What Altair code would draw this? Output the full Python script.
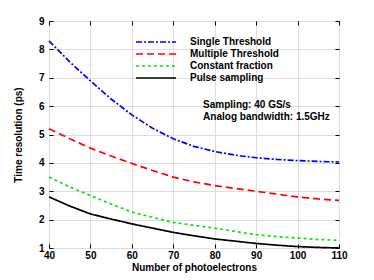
import altair as alt
import pandas as pd

photoelectrons = [40, 45, 50, 55, 60, 65, 70, 75, 80, 85, 90, 95, 100, 105, 110]
single_threshold = [8.30, 7.56, 6.89, 6.25, 5.69, 5.22, 4.85, 4.58, 4.40, 4.27, 4.18, 4.12, 4.08, 4.05, 4.03]
multiple_threshold = [5.20, 4.85, 4.52, 4.24, 3.98, 3.73, 3.50, 3.33, 3.20, 3.10, 3.00, 2.90, 2.80, 2.73, 2.68]
constant_fraction = [3.50, 3.15, 2.85, 2.55, 2.27, 2.08, 1.90, 1.80, 1.70, 1.58, 1.47, 1.40, 1.35, 1.30, 1.27]
pulse_sampling = [2.80, 2.48, 2.20, 2.02, 1.85, 1.70, 1.55, 1.43, 1.32, 1.24, 1.16, 1.10, 1.05, 1.02, 1.00]

series_names = ["Single Threshold", "Multiple Threshold", "Constant fraction", "Pulse sampling"]
series_colors = ["#0000ff", "#ff0000", "#00e600", "#000000"]
series_dashes = [[6, 2, 2, 2], [7, 4], [3, 3], [1, 0]]

x_ticks = [40, 50, 60, 70, 80, 90, 100, 110]
y_ticks = [1, 2, 3, 4, 5, 6, 7, 8, 9]

notes = ["Sampling: 40 GS/s", "Analog bandwidth: 1.5GHz"]
note_x = [77.2, 77.2]
note_y = [6.04, 5.62]

rows = []
for name, vals in zip(series_names, [single_threshold, multiple_threshold, constant_fraction, pulse_sampling]):
    for xv, yv in zip(photoelectrons, vals):
        rows.append({"n": xv, "t": yv, "series": name})
df = pd.DataFrame(rows)
notes_df = pd.DataFrame({"x": note_x, "y": note_y, "text": notes})

FONT = "Liberation Sans"
xscale = alt.Scale(domain=[40, 110], nice=False, zero=False)
yscale = alt.Scale(domain=[1, 9], nice=False, zero=False)

legend_kw = dict(title=None, orient="none", legendX=101, legendY=15,
                 symbolType="M-4,0H4", symbolSize=100, symbolStrokeWidth=1.5,
                 labelFont=FONT, labelFontWeight="bold", labelFontSize=10,
                 labelColor="black", labelOffset=28, rowPadding=1, padding=0)

color = alt.Color("series:N", scale=alt.Scale(domain=series_names, range=series_colors),
                  legend=alt.Legend(**legend_kw))
dash = alt.StrokeDash("series:N", scale=alt.Scale(domain=series_names, range=series_dashes),
                      legend=alt.Legend(**legend_kw))

lines = alt.Chart(df).mark_line(strokeWidth=1.7).encode(
    x=alt.X("n:Q", scale=xscale, axis=alt.Axis(orient="bottom", values=x_ticks, ticks=False, domain=False,
                                               title="Number of photoelectrons", labelPadding=2,
                                               labelFlush=False, titlePadding=2, labelFont=FONT,
                                               labelFontWeight="bold", labelFontSize=10, titleFont=FONT,
                                               titleFontWeight="bold", titleFontSize=10,
                                               labelColor="black", titleColor="black")),
    y=alt.Y("t:Q", scale=yscale, axis=alt.Axis(orient="left", values=y_ticks, ticks=False, domain=False,
                                               title="Time resolution (ps)", labelPadding=5,
                                               labelFlush=False, titlePadding=15, labelFont=FONT,
                                               labelFontWeight="bold", labelFontSize=10, titleFont=FONT,
                                               titleFontWeight="bold", titleFontSize=10,
                                               labelColor="black", titleColor="black")),
    color=color,
    strokeDash=dash,
)

tick_style = dict(labels=False, domain=False, title=None, tickSize=4, offset=-4, tickColor="black", tickWidth=1)

ticks_a = alt.Chart(df).mark_point(opacity=0).encode(
    x=alt.X("n:Q", scale=xscale, axis=alt.Axis(orient="top", values=x_ticks, **tick_style)),
    y=alt.Y("t:Q", scale=yscale, axis=alt.Axis(orient="right", values=y_ticks, **tick_style)),
)
ticks_b = alt.Chart(df).mark_point(opacity=0).encode(
    x=alt.X("n:Q", scale=xscale, axis=alt.Axis(orient="bottom", values=x_ticks, **tick_style)),
    y=alt.Y("t:Q", scale=yscale, axis=alt.Axis(orient="left", values=y_ticks, **tick_style)),
)

text = alt.Chart(notes_df).mark_text(align="left", baseline="middle", font=FONT, fontWeight="bold",
                                     fontSize=10, color="black").encode(
    x=alt.X("x:Q", scale=xscale, axis=None),
    y=alt.Y("y:Q", scale=yscale, axis=None),
    text="text:N",
)

chart = alt.layer(lines, ticks_a, ticks_b, text).resolve_axis(x="independent", y="independent").properties(
    width=290, height=227,
    autosize=alt.AutoSizeParams(type="none"),
    padding={"left": 41, "top": 13, "right": 20, "bottom": 28},
).configure_view(stroke="black", strokeWidth=1).configure(background="white")

chart.save("out.html", embed_options={"renderer": "svg", "actions": False})
